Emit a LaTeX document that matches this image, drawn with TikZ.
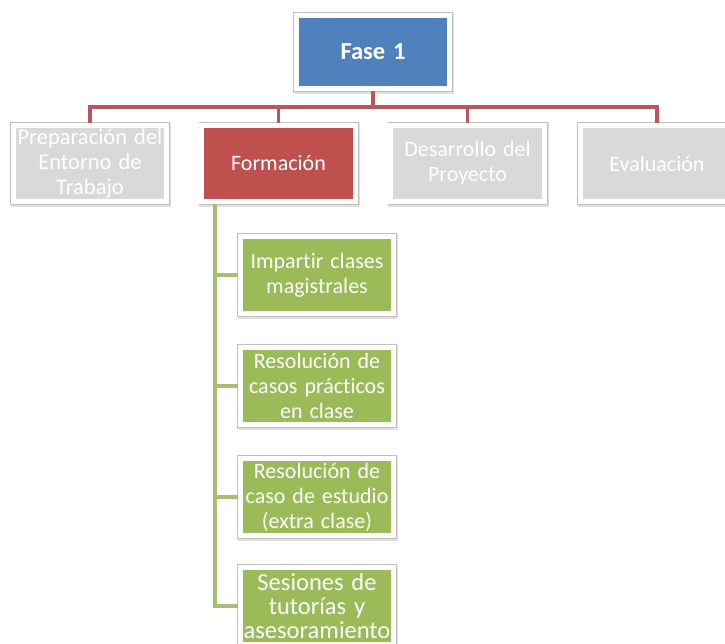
\documentclass[tikz,border=0pt]{standalone}
\usepackage{fontspec}
\setmainfont{Carlito}[Ligatures={NoCommon}, WordSpace=1.4]
\definecolor{fblue}{HTML}{4F81BD}
\definecolor{fred}{HTML}{C0504D}
\definecolor{fgray}{HTML}{D9D9D9}
\definecolor{fgreen}{HTML}{9BBB59}
\definecolor{redlink}{HTML}{B9575A}
\definecolor{greenlink}{HTML}{A6BF72}
\begin{document}
\begin{tikzpicture}[x=1pt,y=-1pt,
  card/.style={rectangle, fill=#1, draw=white, line width=5pt,
    preaction={draw=black!12, line width=7pt,
      transform canvas={shift={(1.2pt,-1.5pt)}}},
    preaction={draw=black!25, line width=6.5pt},
    minimum width=153.5pt, minimum height=76.5pt, inner sep=0pt,
    text=white, align=center,
    font=\fontsize{22}{25}\selectfont},
  leaf/.style={card=fgreen, minimum height=77.5pt},
  redwire/.style={draw=redlink, line width=3.2pt},
  greenwire/.style={draw=greenlink, line width=3.2pt}]
  \path[use as bounding box, clip] (0,0) rectangle (725,644);
  \fill[white] (0,0) rectangle (725,644);

  % junction points of the two trees
  \coordinate (bus) at (373,107);
  \coordinate (spine) at (215,204);

  \node[card=fblue, minimum height=73.5pt,
        font=\fontsize{24.5}{28}\selectfont\bfseries] (f1) at (373,52) {Fase 1};

  \node[card=fgray, font=\fontsize{22.5}{25}\selectfont] (c1) at (90,163.5) {Preparación del\\Entorno de\\Trabajo};
  \node[card=fred]  (c2) at (278.5,163.5) {Formación};
  \node[card=fgray] (c3) at (467.5,163.5) {Desarrollo del\\Proyecto};
  \node[card=fgray] (c4) at (657,163.5) {Evaluación};

  \node[leaf] (g1) at (317,275) {Impartir clases\\magistrales};
  \node[leaf] (g2) at (317,386) {Resolución de\\casos prácticos\\en clase};
  \node[leaf] (g3) at (317,497) {Resolución de\\caso de estudio\\(extra clase)};
  \node[leaf, font=\fontsize{24.5}{24}\selectfont] (g4) at (317,606) {Sesiones de\\tutorías y\\asesoramiento};

  \draw[redwire] (f1.south) -- (bus) -| (c1.north);
  \draw[redwire] (bus) -| (c2.north);
  \draw[redwire] (bus) -| (c3.north);
  \draw[redwire] (bus) -| (c4.north);

  \draw[greenwire] (spine) |- (g1.west);
  \draw[greenwire] (spine) |- (g2.west);
  \draw[greenwire] (spine) |- (g3.west);
  \draw[greenwire] (spine) |- (g4.west);
\end{tikzpicture}
\end{document}
